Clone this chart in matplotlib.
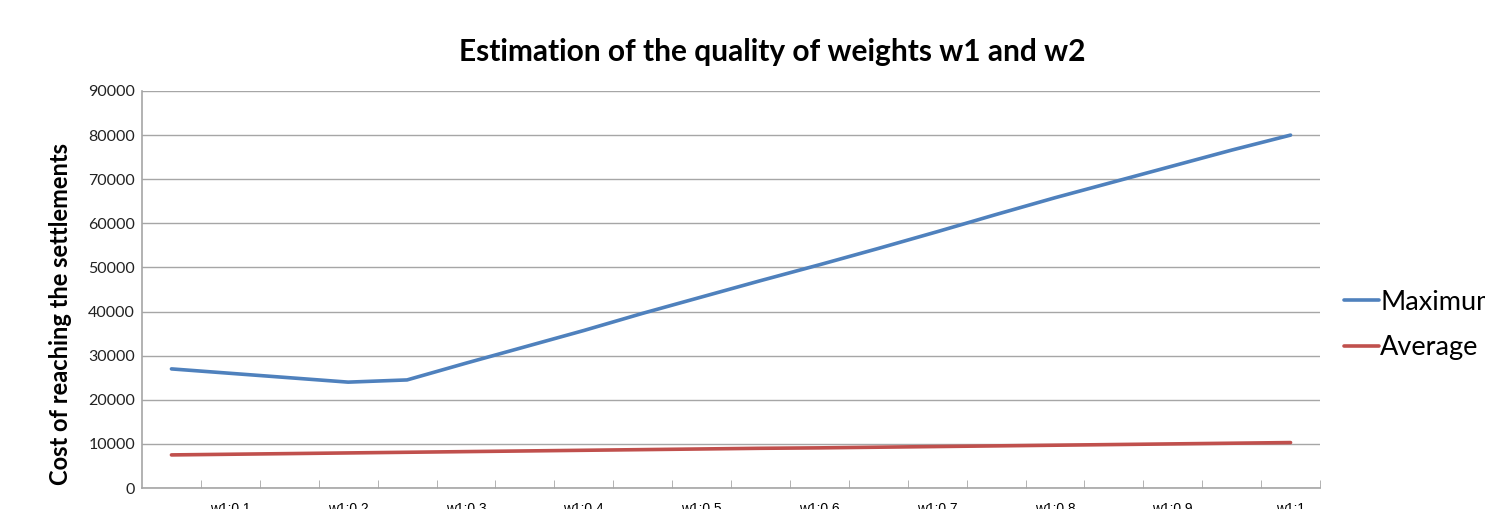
import matplotlib
matplotlib.use('Agg')
import matplotlib.pyplot as plt
import numpy as np

categories = ['w1:0.05', 'w1:0.1', 'w1:0.15', 'w1:0.2', 'w1:0.25', 'w1:0.3', 'w1:0.35',
              'w1:0.4', 'w1:0.45', 'w1:0.5', 'w1:0.55', 'w1:0.6', 'w1:0.65', 'w1:0.7',
              'w1:0.75', 'w1:0.8', 'w1:0.85', 'w1:0.9', 'w1:0.95', 'w1:1']
maximum = [27000, 26000, 25000, 24000, 24500, 28300, 32000, 35700, 39600, 43300,
           47000, 50600, 54300, 58100, 62000, 65800, 69400, 73000, 76600, 80000]
average = [7500, 7650, 7800, 7950, 8100, 8250, 8400, 8550, 8700, 8850,
           9000, 9100, 9250, 9400, 9550, 9700, 9850, 10000, 10150, 10300]
y_ticks = [0, 10000, 20000, 30000, 40000, 50000, 60000, 70000, 80000, 90000]

W, H = 1485, 509
fig = plt.figure(figsize=(W / 100, H / 100), dpi=100)
ax = fig.add_axes([142 / W, 1 - 488 / H, (1320 - 142) / W, (488 - 91) / H])

x = np.arange(len(categories))
l1, = ax.plot(x, maximum, color='#4F81BD', lw=2.6, label='Maximum', solid_capstyle='round')
l2, = ax.plot(x, average, color='#C0504D', lw=2.6, label='Average', solid_capstyle='round')

ax.set_xlim(-0.5, len(categories) - 0.5)
ax.set_ylim(0, 90000)
ax.set_yticks(y_ticks)
ax.set_yticklabels([str(v) for v in y_ticks], fontfamily='Lato', fontsize=11.5, color='#222222')
ax.tick_params(axis='y', length=0, pad=5)
ax.grid(axis='y', color='#a6a6a6', lw=1)
ax.set_axisbelow(True)

# labels only on every other category, like excel does when they don't fit
ax.set_xticks(x[1::2])
ax.set_xticklabels(categories[1::2], fontfamily='Liberation Sans', fontsize=10)
ax.set_xticks(np.arange(0.5, len(categories)), minor=True)
ax.tick_params(axis='x', which='major', length=0, pad=10)
ax.tick_params(axis='x', which='minor', direction='in', length=6, color='#a6a6a6')

for s in ['top', 'right']:
    ax.spines[s].set_visible(False)
for s in ['left', 'bottom']:
    ax.spines[s].set_color('#a6a6a6')
    ax.spines[s].set_linewidth(1.2)

fig.text(772 / W, 1 - 52 / H, 'Estimation of the quality of weights w1 and w2',
         ha='center', va='center', fontsize=21.5, fontweight='bold', fontfamily='Lato')
fig.text(61 / W, 1 - 314 / H, 'Cost of reaching the settlements', rotation=90,
         ha='center', va='center', fontsize=17, fontweight='bold', fontfamily='Lato')

fig.legend(handles=[l1, l2], loc='upper left', bbox_to_anchor=(1333 / W, 1 - 279 / H),
           frameon=False, prop={'family': 'Lato', 'size': 19.5}, handlelength=1.3,
           handletextpad=0.05, labelspacing=0.75, borderaxespad=0)

fig.savefig('out.png', dpi=100)
